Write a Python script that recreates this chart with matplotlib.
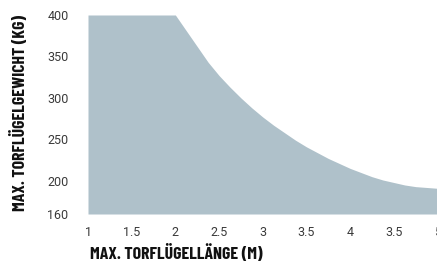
import matplotlib
matplotlib.use("Agg")
import matplotlib.pyplot as plt

# Torflügellänge (m) / max. Gewicht (kg)
laenge = [1.0, 1.5, 2.0, 2.125, 2.25, 2.375, 2.5, 2.625, 2.75, 2.875, 3.0, 3.125, 3.25,
          3.375, 3.5, 3.625, 3.75, 3.875, 4.0, 4.125, 4.25, 4.375, 4.5, 4.625, 4.75,
          4.875, 5.0]
gewicht = [400, 400, 400, 381, 362, 343, 327, 313, 300, 288, 277, 267, 258,
           249, 241, 234, 227, 221, 215, 210, 205, 201, 198, 195, 193,
           192, 191]

x_ticks = [1, 1.5, 2, 2.5, 3, 3.5, 4, 4.5, 5]
x_tick_labels = ["1", "1.5", "2", "2.5", "3", "3.5", "4", "3.5", "5"]
y_ticks = [160, 200, 250, 300, 350, 400]
y_tick_labels = ["160", "200", "250", "300", "350", "400"]

fill_color = "#afc1ca"
label_font = ["Barlow Condensed", "DejaVu Sans"]
tick_font = ["Roboto", "DejaVu Sans"]

fig = plt.figure(figsize=(4.37, 2.61), dpi=100)
ax = fig.add_axes([88 / 437, 47 / 261, 349.5 / 437, 199 / 261])

ax.fill_between(laenge, 160, gewicht, color=fill_color, linewidth=0)

ax.set_xlim(1, 5)
ax.set_ylim(160, 400)
ax.set_xticks(x_ticks)
ax.set_xticklabels(x_tick_labels)
ax.set_yticks(y_ticks)
ax.set_yticklabels(y_tick_labels)
for s in ax.spines.values():
    s.set_visible(False)
ax.tick_params(axis="both", length=0, labelsize=9, colors="#3a3a3a")
ax.tick_params(axis="y", pad=14)
ax.tick_params(axis="x", pad=9)
for t in ax.get_xticklabels() + ax.get_yticklabels():
    t.set_family(tick_font)
    t.set_fontweight("normal")

fig.text(90 / 437, 1 - 253 / 261, "MAX. TORFLÜGELLÄNGE (M)", family=label_font,
         fontweight="bold", fontsize=12.8, color="#111111", ha="left", va="center")
fig.text(19 / 437, 1 - 113 / 261, "MAX. TORFLÜGELGEWICHT (KG)", family=label_font,
         fontweight="bold", fontsize=12.8, color="#111111", ha="center", va="center",
         rotation=90)

fig.savefig("out.png", dpi=100)
